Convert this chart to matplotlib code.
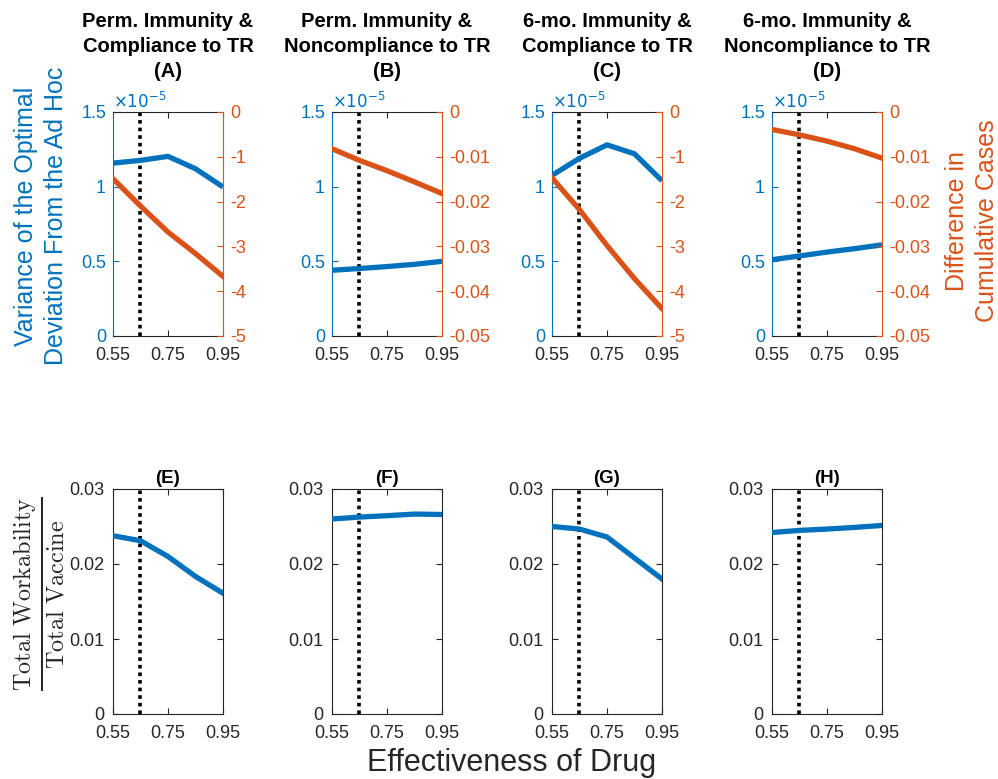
import matplotlib
matplotlib.use("Agg")
import matplotlib.pyplot as plt

plt.rcParams["font.family"] = ["Liberation Sans", "DejaVu Sans"]
plt.rcParams["axes.unicode_minus"] = False

# ── data ────────────────────────────────────────────────────────
effectiveness = [0.55, 0.65, 0.75, 0.85, 0.95]
drug_ref = 0.648  # dotted reference line

panel_titles_top = [
    "Perm. Immunity &\nCompliance to TR\n(A)",
    "Perm. Immunity &\nNoncompliance to TR\n(B)",
    "6-mo. Immunity &\nCompliance to TR\n(C)",
    "6-mo. Immunity &\nNoncompliance to TR\n(D)",
]
panel_titles_bottom = ["(E)", "(F)", "(G)", "(H)"]

# variance of optimal deviation, in units of 1e-5
variance_A = [1.158, 1.176, 1.203, 1.120, 0.998]
variance_B = [0.440, 0.452, 0.465, 0.480, 0.500]
variance_C = [1.076, 1.190, 1.280, 1.220, 1.040]
variance_D = [0.511, 0.536, 0.562, 0.585, 0.610]

# difference in cumulative cases
diff_A = [-1.49, -2.10, -2.68, -3.16, -3.67]
diff_B = [-0.0082, -0.0108, -0.0131, -0.0156, -0.0182]
diff_C = [-1.47, -2.18, -2.98, -3.72, -4.39]
diff_D = [-0.0039, -0.0051, -0.0065, -0.0082, -0.0103]

# total workability / total vaccine
ratio_E = [0.02377, 0.02310, 0.02100, 0.01834, 0.01610]
ratio_F = [0.02600, 0.02626, 0.02644, 0.02666, 0.02660]
ratio_G = [0.02500, 0.02466, 0.02360, 0.02080, 0.01800]
ratio_H = [0.02420, 0.02448, 0.02466, 0.02488, 0.02514]

variance_sets = [variance_A, variance_B, variance_C, variance_D]
diff_sets = [diff_A, diff_B, diff_C, diff_D]
ratio_sets = [ratio_E, ratio_F, ratio_G, ratio_H]

diff_ticks_big = [0, -1, -2, -3, -4, -5]
diff_ticks_small = [0, -0.01, -0.02, -0.03, -0.04, -0.05]
diff_scales = [diff_ticks_big, diff_ticks_small, diff_ticks_big, diff_ticks_small]

# ── style ───────────────────────────────────────────────────────
BLUE = "#0072BD"
ORANGE = "#D95319"
GREY = "#262626"
W, H = 998, 779
lefts = [113, 332, 552, 772]
ax_w = 110
top_row = (112, 336)
bot_row = (489, 714)

fig = plt.figure(figsize=(W / 100, H / 100), dpi=100)


def fig_rect(left_px, top_px, bottom_px):
    return [left_px / W, 1 - bottom_px / H, ax_w / W, (bottom_px - top_px) / H]


def style_x(ax):
    ax.set_xlim(0.55, 0.95)
    ax.set_xticks([0.55, 0.75, 0.95])
    ax.set_xticklabels(["0.55", "0.75", "0.95"])
    ax.tick_params(axis="x", direction="in", length=4, top=True,
                   labelsize=13, colors=GREY, pad=8)


for i in range(4):
    # top row: twin axes
    ax = fig.add_axes(fig_rect(lefts[i], *top_row))
    ax.plot(effectiveness, variance_sets[i], color=BLUE, lw=3.8,
            solid_capstyle="butt", zorder=3)
    ax.axvline(drug_ref, color="black", lw=2.6, ls=(0, (1, 1.1)), zorder=2)
    ax.set_ylim(0, 1.5)
    ax.set_yticks([0, 0.5, 1, 1.5])
    ax.set_yticklabels(["0", "0.5", "1", "1.5"])
    ax.tick_params(axis="y", direction="in", length=4, labelsize=13,
                   colors=BLUE, pad=5)
    style_x(ax)
    for s in ["top", "bottom"]:
        ax.spines[s].set_color(GREY)
    ax.spines["left"].set_color(BLUE)
    ax.spines["right"].set_visible(False)
    ax.set_title(panel_titles_top[i], fontsize=14.5, fontweight="bold",
                 linespacing=1.4, pad=25)
    ax.text(0.0, 1.005, r"$\times10^{-5}$", transform=ax.transAxes,
            color=BLUE, fontsize=12, ha="left", va="bottom",
            math_fontfamily="dejavusans")

    ax2 = ax.twinx()
    ax2.plot(effectiveness, diff_sets[i], color=ORANGE, lw=3.8, zorder=3)
    ticks = diff_scales[i]
    ax2.set_ylim(ticks[-1], ticks[0])
    ax2.set_yticks(ticks)
    ax2.set_yticklabels([f"{t:g}" for t in ticks])
    ax2.tick_params(axis="y", direction="in", length=4, labelsize=13,
                    colors=ORANGE, pad=5)
    for s in ["top", "bottom", "left"]:
        ax2.spines[s].set_visible(False)
    ax2.spines["right"].set_color(ORANGE)

    # bottom row
    bx = fig.add_axes(fig_rect(lefts[i], *bot_row))
    bx.plot(effectiveness, ratio_sets[i], color=BLUE, lw=3.8, zorder=3)
    bx.axvline(drug_ref, color="black", lw=2.6, ls=(0, (1, 1.1)), zorder=2)
    bx.set_ylim(0, 0.03)
    bx.set_yticks([0, 0.01, 0.02, 0.03])
    bx.set_yticklabels(["0", "0.01", "0.02", "0.03"])
    bx.tick_params(axis="y", direction="in", length=4, right=True,
                   labelsize=13, colors=GREY, pad=6)
    style_x(bx)
    for s in bx.spines.values():
        s.set_color(GREY)
    bx.set_title(panel_titles_bottom[i], fontsize=13.5, fontweight="bold",
                 pad=4)

# axis labels
fig.text(41 / W, 1 - 216 / H,
         "Variance of the Optimal\nDeviation From the Ad Hoc",
         rotation=90, ha="center", va="center", fontsize=18, color=BLUE,
         linespacing=1.3)
fig.text(972 / W, 1 - 221 / H, "Difference in\nCumulative Cases",
         rotation=90, ha="center", va="center", fontsize=18, color=ORANGE,
         linespacing=1.3)
fig.text(40 / W, 1 - 594 / H,
         r"$\frac{\mathrm{Total\ Workability}}{\mathrm{Total\ Vaccine}}$",
         rotation=90, ha="center", va="center", fontsize=25, color=GREY,
         math_fontfamily="cm")
fig.text(512 / W, 1 - 763 / H, "Effectiveness of Drug", ha="center",
         va="center", fontsize=22, color=GREY)

fig.savefig("out.png", dpi=100, facecolor="white")
